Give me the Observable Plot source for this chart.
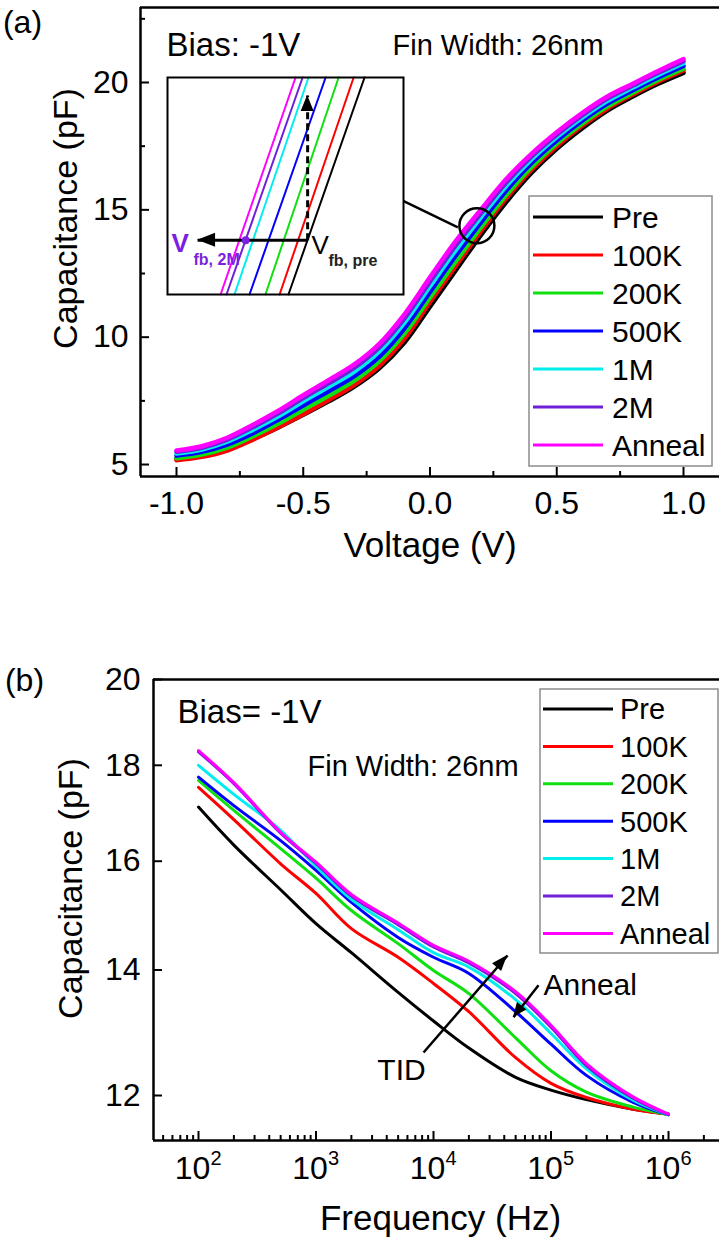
<!DOCTYPE html>
<html><head><meta charset="utf-8">
<script src="https://cdn.jsdelivr.net/npm/d3@7"></script>
<script src="https://cdn.jsdelivr.net/npm/@observablehq/plot@0.6"></script>
<style>
body{margin:0;background:#fff;}
#wrap{position:relative;width:719px;height:1238px;overflow:hidden;font-family:"Liberation Sans",Arial,Helvetica,sans-serif;color:#000;}
#wrap svg{position:absolute;overflow:visible;}
</style></head><body><div id="wrap"></div>
<script>
// ---------- data ----------
const series = ["Pre","100K","200K","500K","1M","2M","Anneal"];
const colors = ["#000000","#ff0000","#10e010","#0000ff","#00eeee","#7020d8","#ff00ff"];

// panel (a): C-V
const voltage = [-1.0,-0.9,-0.8,-0.7,-0.6,-0.5,-0.4,-0.3,-0.2,-0.1,0.0,0.1,0.2,0.3,0.4,0.5,0.6,0.7,0.8,0.9,1.0];
const cvPre    = [5.22,5.35,5.60,6.00,6.45,6.95,7.48,8.05,8.78,9.80,11.20,12.60,14.00,15.30,16.45,17.40,18.20,18.90,19.45,19.95,20.38];
const cv100K   = [5.17,5.30,5.55,5.97,6.45,6.97,7.53,8.12,8.88,9.95,11.38,12.78,14.15,15.45,16.57,17.50,18.30,18.98,19.53,20.03,20.47];
const cv200K   = [5.25,5.39,5.66,6.10,6.60,7.15,7.70,8.28,9.06,10.15,11.56,12.95,14.30,15.57,16.68,17.60,18.38,19.06,19.60,20.10,20.54];
const cv500K   = [5.35,5.50,5.78,6.22,6.75,7.32,7.88,8.46,9.24,10.36,11.78,13.18,14.50,15.75,16.83,17.72,18.50,19.17,19.70,20.20,20.65];
const cv1M     = [5.43,5.59,5.90,6.36,6.88,7.48,8.05,8.64,9.44,10.58,12.00,13.40,14.70,15.93,16.98,17.86,18.62,19.28,19.80,20.30,20.76];
const cv2M     = [5.50,5.66,5.98,6.46,7.00,7.61,8.19,8.79,9.60,10.75,12.18,13.58,14.85,16.06,17.09,17.95,18.71,19.37,19.88,20.38,20.84];
const cvAnneal = [5.55,5.72,6.05,6.55,7.10,7.72,8.31,8.92,9.74,10.91,12.35,13.75,15.00,16.20,17.20,18.05,18.80,19.45,19.95,20.45,20.92];
const cvSeries = [cvPre,cv100K,cv200K,cv500K,cv1M,cv2M,cvAnneal];

// inset of (a): each line crosses the bottom (C=13.8) and top (C=14.6) of the zoom box
const insetCLow = 13.8, insetCHigh = 14.6;
const insetVLow  = [0.1910,0.1880,0.1832,0.1778,0.1727,0.1700,0.1680];
const insetVHigh = [0.2168,0.2131,0.2080,0.2036,0.1978,0.1958,0.1934];

// panel (b): C-f
const frequency = [100,200,500,1000,2000,5000,10000,20000,50000,100000,200000,500000,1000000];
const cfPre    = [17.10,16.32,15.45,14.82,14.30,13.62,13.15,12.72,12.27,12.08,11.94,11.80,11.73];
const cf100K   = [17.52,16.84,15.95,15.38,14.73,14.22,13.77,13.30,12.57,12.18,11.97,11.80,11.73];
const cf200K   = [17.67,17.03,16.25,15.67,15.06,14.46,13.99,13.60,12.88,12.37,12.05,11.83,11.72];
const cf500K   = [17.74,17.13,16.41,15.82,15.21,14.57,14.22,13.94,13.30,12.78,12.30,11.90,11.72];
const cf1M     = [18.00,17.37,16.62,15.90,15.27,14.71,14.30,14.05,13.50,12.95,12.40,11.93,11.72];
const cf2M     = [18.30,17.60,16.56,15.96,15.33,14.80,14.40,14.12,13.60,13.05,12.45,11.96,11.72];
const cfAnneal = [18.33,17.62,16.58,15.98,15.36,14.83,14.43,14.15,13.63,13.08,12.48,11.98,11.73];
const cfSeries = [cfPre,cf100K,cf200K,cf500K,cf1M,cf2M,cfAnneal];

// ticks
const xTicksA = [-1,-0.5,0,0.5,1];
const xMinorA = [-0.75,-0.25,0.25,0.75];
const yTicksA = [5,10,15,20];
const yMinorA = [7.5,12.5,17.5,22.5];
const xTicksB = [1e2,1e3,1e4,1e5,1e6];
const xExpB = ["2","3","4","5","6"];
const xMinorB = [50,60,70,80,90, 200,300,400,500,600,700,800,900, 2e3,3e3,4e3,5e3,6e3,7e3,8e3,9e3,
  2e4,3e4,4e4,5e4,6e4,7e4,8e4,9e4, 2e5,3e5,4e5,5e5,6e5,7e5,8e5,9e5, 2e6];
const yTicksB = [12,14,16,18,20];

// annotations
const connectorA = [{x1:-0.110, y1:15.37, x2:0.110, y2:14.31}];
const circleA = [{V:0.185, C:14.38}];
const tidArrow = {tail:[8224,12.65], tip:[42700,14.25]};
const annealArrow = {tail:[78300,13.74], tip:[48000,13.21]};
const insetH = {tail:[0.1975,14.0], tip:[0.1602,14.0]};
const insetV = {tail:[0.1975,14.0], tip:[0.1975,14.534]};
const insetDot = [{V:0.1765, C:14.0}];

// ---------- helpers ----------
const FONT = '"Liberation Sans", Arial, Helvetica, sans-serif';
const wrap = document.getElementById("wrap");
function place(el, left, top){ el.style.left = left+"px"; el.style.top = top+"px"; wrap.appendChild(el); }

function headMark(tail, tip, len, wid) {
  return (index, scales) => {
    const x1 = scales.x(tail[0]), y1 = scales.y(tail[1]);
    const x2 = scales.x(tip[0]), y2 = scales.y(tip[1]);
    const a = Math.atan2(y2 - y1, x2 - x1);
    const bx = x2 - len*Math.cos(a), by = y2 - len*Math.sin(a);
    const px = -Math.sin(a)*wid/2, py = Math.cos(a)*wid/2;
    return d3.create("svg:path")
      .attr("d", `M${x2},${y2}L${bx+px},${by+py}L${bx-px},${by-py}Z`)
      .attr("fill", "black").node();
  };
}
function legendMark(box, rowY0, rowStep, lineX, textX, fontSize, lw) {
  return () => {
    const g = d3.create("svg:g");
    g.append("rect").attr("x", box[0]).attr("y", box[1]).attr("width", box[2]).attr("height", box[3])
      .attr("fill", "white").attr("stroke", "#8c8c8c").attr("stroke-width", 1.5);
    series.forEach((s, i) => {
      const y = rowY0 + i*rowStep;
      g.append("line").attr("x1", lineX[0]).attr("x2", lineX[1]).attr("y1", y).attr("y2", y)
        .attr("stroke", colors[i]).attr("stroke-width", lw);
      g.append("text").attr("x", textX).attr("y", y).attr("dy", "0.36em")
        .attr("text-anchor", "start").attr("font-size", fontSize).attr("fill", "black").text(s);
    });
    return g.node();
  };
}

// ---------- panel (a) ----------
const cvData = series.flatMap((s, i) => voltage.map((v, j) => ({series: s, V: v, C: cvSeries[i][j]})));
const xDomA = [-1.142, 1.142], yDomA = [4.53, 22.945];
const plotHA = 560 - 7 - 84, plotWA = 719 - 140;
const plotA = Plot.plot({
  width: 719, height: 560, marginLeft: 140, marginRight: 0, marginTop: 7, marginBottom: 84,
  style: {fontFamily: FONT, background: "transparent", overflow: "visible"},
  x: {domain: xDomA}, y: {domain: yDomA},
  color: {domain: series, range: colors},
  marks: [
    Plot.line(cvData, {x: "V", y: "C", z: "series", stroke: "series", strokeWidth: 4.5, curve: "catmull-rom"}),
    Plot.link(connectorA, {x1: "x1", y1: "y1", x2: "x2", y2: "y2", stroke: "black", strokeWidth: 2.5}),
    Plot.dot(circleA, {x: "V", y: "C", r: 17.5, stroke: "black", strokeWidth: 2.5, fill: "none"}),
    Plot.ruleX([xDomA[0]], {stroke: "black", strokeWidth: 2.5}),
    Plot.ruleY([yDomA[0], yDomA[1]], {stroke: "black", strokeWidth: 2.5}),
    Plot.tickX(xTicksA, {x: d => d, insetTop: plotHA - 9, stroke: "black", strokeWidth: 2}),
    Plot.tickX(xMinorA, {x: d => d, insetTop: plotHA - 5, stroke: "black", strokeWidth: 2}),
    Plot.tickY(yTicksA, {y: d => d, insetRight: plotWA - 9, stroke: "black", strokeWidth: 2}),
    Plot.tickY(yMinorA, {y: d => d, insetRight: plotWA - 5, stroke: "black", strokeWidth: 2}),
    Plot.axisX({ticks: xTicksA, tickSize: 0, tickPadding: 15, tickFormat: d => d.toFixed(1), fontSize: 32, label: null}),
    Plot.axisY({ticks: yTicksA, tickSize: 0, tickPadding: 12, tickFormat: d => String(d), fontSize: 32, label: null}),
    Plot.text(["Voltage (V)"], {frameAnchor: "bottom", dy: 69, text: d => d, fontSize: 35, lineAnchor: "middle"}),
    Plot.text(["Capacitance (pF)"], {frameAnchor: "top-left", dx: -74, dy: 211, rotate: -90, text: d => d, fontSize: 34, textAnchor: "middle", lineAnchor: "middle"}),
    Plot.text(["(a)"], {frameAnchor: "top-left", dx: -118, dy: 15, text: d => d, fontSize: 32, textAnchor: "middle", lineAnchor: "middle"}),
    Plot.text(["Bias: -1V"], {frameAnchor: "top-left", dx: 26, dy: 38, text: d => d, fontSize: 33, textAnchor: "start", lineAnchor: "middle"}),
    Plot.text(["Fin Width: 26nm"], {frameAnchor: "top-left", dx: 252, dy: 38, text: d => d, fontSize: 29, textAnchor: "start", lineAnchor: "middle"}),
    legendMark([529, 196, 183, 270], 217, 38, [533, 603], 612, 30, 3)
  ]
});
place(plotA, 0, 0);

// inset of (a)
const insetData = series.flatMap((s, i) => [
  {series: s, V: insetVLow[i], C: insetCLow},
  {series: s, V: insetVHigh[i], C: insetCHigh}
]);
const inset = Plot.plot({
  width: 236, height: 217, marginLeft: 0, marginRight: 0, marginTop: 0, marginBottom: 0,
  style: {fontFamily: FONT, background: "white", overflow: "visible"},
  x: {domain: [0.150, 0.230], axis: null}, y: {domain: [13.8, 14.6], axis: null},
  color: {domain: series, range: colors},
  marks: [
    Plot.line(insetData, {x: "V", y: "C", z: "series", stroke: "series", strokeWidth: 2}),
    Plot.link([insetV], {x1: d => d.tail[0], y1: d => d.tail[1], x2: d => d.tip[0], y2: d => d.tip[1], stroke: "black", strokeWidth: 3, strokeDasharray: "7,4"}),
    headMark(insetV.tail, insetV.tip, 16, 13),
    Plot.link([insetH], {x1: d => d.tail[0], y1: d => d.tail[1], x2: d => d.tip[0], y2: d => d.tip[1], stroke: "black", strokeWidth: 3}),
    headMark(insetH.tail, insetH.tip, 18, 14),
    Plot.dot(insetDot, {x: "V", y: "C", r: 4, fill: "#7b1fe0"}),
    Plot.text(["V"], {frameAnchor: "top-left", dx: 4, dy: 166, text: d => d, fontSize: 26, fill: "#7b1fe0", fontWeight: "bold", textAnchor: "start", lineAnchor: "middle"}),
    Plot.text(["fb, 2M"], {frameAnchor: "top-left", dx: 26, dy: 182, text: d => d, fontSize: 16, fill: "#7b1fe0", fontWeight: "bold", textAnchor: "start", lineAnchor: "middle"}),
    Plot.text(["V"], {frameAnchor: "top-left", dx: 144, dy: 168, text: d => d, fontSize: 26, fill: "black", textAnchor: "start", lineAnchor: "middle"}),
    Plot.text(["fb, pre"], {frameAnchor: "top-left", dx: 161, dy: 183, text: d => d, fontSize: 16, fill: "#222", fontWeight: "bold", textAnchor: "start", lineAnchor: "middle"}),
    Plot.frame({stroke: "black", strokeWidth: 2})
  ]
});
place(inset, 167, 77);

// ---------- panel (b) ----------
const cfData = series.flatMap((s, i) => frequency.map((f, j) => ({series: s, f, C: cfSeries[i][j]})));
const xDomB = [41.4, 2.716e6], yDomB = [11.355, 20];
const plotHB = 678 - 119 - 98, plotWB = 719 - 153;
const plotB = Plot.plot({
  width: 719, height: 678, marginLeft: 153, marginRight: 0, marginTop: 119, marginBottom: 98,
  style: {fontFamily: FONT, background: "transparent", overflow: "visible"},
  x: {type: "log", domain: xDomB, axis: null}, y: {type: "log", domain: yDomB},
  color: {domain: series, range: colors},
  marks: [
    Plot.line(cfData, {x: "f", y: "C", z: "series", stroke: "series", strokeWidth: 3, curve: "catmull-rom"}),
    Plot.link([tidArrow, annealArrow], {x1: d => d.tail[0], y1: d => d.tail[1], x2: d => d.tip[0], y2: d => d.tip[1], stroke: "black", strokeWidth: 2.5}),
    headMark(tidArrow.tail, tidArrow.tip, 16, 12),
    headMark(annealArrow.tail, annealArrow.tip, 14, 12),
    Plot.ruleX([xDomB[0]], {stroke: "black", strokeWidth: 2.5}),
    Plot.ruleY([yDomB[0], yDomB[1]], {stroke: "black", strokeWidth: 2.5}),
    Plot.tickX(xTicksB, {x: d => d, insetTop: plotHB - 9, stroke: "black", strokeWidth: 2}),
    Plot.tickX(xMinorB, {x: d => d, insetTop: plotHB - 5, stroke: "black", strokeWidth: 2}),
    Plot.tickY(yTicksB, {y: d => d, insetRight: plotWB - 9, stroke: "black", strokeWidth: 2}),
    Plot.text(xTicksB, {x: d => d, frameAnchor: "bottom", dy: 28, dx: -6, text: () => "10", fontSize: 32, lineAnchor: "middle", textAnchor: "middle"}),
    Plot.text(xTicksB, {x: d => d, frameAnchor: "bottom", dy: 18, dx: 12, text: (d, i) => xExpB[i], fontSize: 20, lineAnchor: "middle", textAnchor: "start"}),
    Plot.axisY({ticks: yTicksB, tickSize: 0, tickPadding: 13, tickFormat: d => String(d), fontSize: 32, label: null}),
    Plot.text(["Frequency (Hz)"], {frameAnchor: "bottom", dy: 78, dx: 4, text: d => d, fontSize: 35, lineAnchor: "middle"}),
    Plot.text(["Capacitance (pF)"], {frameAnchor: "top-left", dx: -82, dy: 209, rotate: -90, text: d => d, fontSize: 34, textAnchor: "middle", lineAnchor: "middle"}),
    Plot.text(["(b)"], {frameAnchor: "top-left", dx: -129, dy: 1, text: d => d, fontSize: 32, textAnchor: "middle", lineAnchor: "middle"}),
    Plot.text(["Bias= -1V"], {frameAnchor: "top-left", dx: 24, dy: 33, text: d => d, fontSize: 33, textAnchor: "start", lineAnchor: "middle"}),
    Plot.text(["Fin Width: 26nm"], {frameAnchor: "top-left", dx: 154, dy: 87, text: d => d, fontSize: 29, textAnchor: "start", lineAnchor: "middle"}),
    Plot.text(["TID"], {frameAnchor: "top-left", dx: 248, dy: 391, text: d => d, fontSize: 30, textAnchor: "middle", lineAnchor: "middle"}),
    Plot.text(["Anneal"], {frameAnchor: "top-left", dx: 390, dy: 306, text: d => d, fontSize: 30, textAnchor: "start", lineAnchor: "middle"}),
    legendMark([540, 129, 178, 264], 149, 37.4, [543, 613], 620, 29, 3)
  ]
});
place(plotB, 0, 560);
</script></body></html>
